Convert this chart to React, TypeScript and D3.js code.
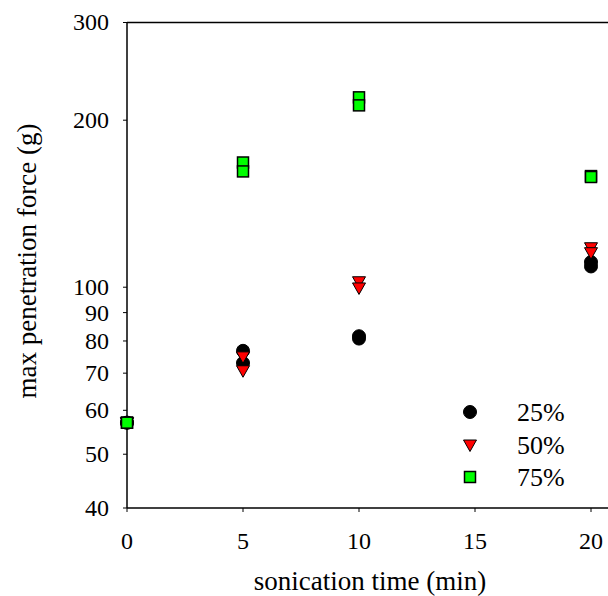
import React from 'react'
import * as d3 from 'd3'

// sonication time (min) and max penetration force (g), two replicates each
const times = [0, 0, 5, 5, 10, 10, 20, 20]
const force25 = [57, 57, 76.8, 73, 81.6, 80.8, 111, 109]
const force50 = [57, 57, 74.9, 70.7, 102.3, 99.7, 117.8, 115.4]
const force75 = [57, 57, 167.8, 161.7, 219.9, 212.7, 158.6, 158]

const xTicks = [0, 5, 10, 15, 20]
const yTicks = [40, 50, 60, 70, 80, 90, 100, 200, 300]
const seriesNames = ['25%', '50%', '75%']

const W = 608
const H = 596
const font = '"Liberation Serif", "Times New Roman", Times, "DejaVu Serif", serif'

export default function App() {
    const x = d3.scaleLinear().domain([0, 20]).range([127, 591])
    const y = d3.scaleLog().domain([40, 300]).range([508, 22.5])

    const circle = (cx: number, cy: number, k: string) => (
        <circle key={k} cx={cx} cy={cy} r={6.5} fill="#000" stroke="#000" strokeWidth={1} />
    )
    const tri = (cx: number, cy: number, k: string) => (
        <path key={k} d={`M${cx - 6.5},${cy - 5} L${cx + 6.5},${cy - 5} L${cx},${cy + 6.5} Z`}
            fill="#ff0000" stroke="#000" strokeWidth={1} />
    )
    const square = (cx: number, cy: number, k: string) => (
        <rect key={k} x={cx - 5.5} y={cy - 5.5} width={11} height={11}
            fill="#00ff00" stroke="#000" strokeWidth={1.5} />
    )

    const legendY = [412, 445, 477]
    const markers = [circle, tri, square]

    return (
        <svg width={W} height={H} style={{position: 'absolute', left: 0, top: 0, fontFamily: font}}>
            <rect width={W} height={H} fill="#fff" />

            {/* axes */}
            <line x1={127} x2={127} y1={22.5} y2={508} stroke="#000" strokeWidth={1.5} />
            <line x1={127} x2={608} y1={22.5} y2={22.5} stroke="#000" strokeWidth={1.5} />
            <line x1={127} x2={608} y1={508} y2={508} stroke="#000" strokeWidth={1.5} />

            {yTicks.map(t => (
                <g key={'y' + t}>
                    <line x1={123} x2={127} y1={y(t)} y2={y(t)} stroke="#000" strokeWidth={1} />
                    <text x={109} y={y(t)} dy="0.33em" textAnchor="end" fontSize={24}>{t}</text>
                </g>
            ))}
            {xTicks.map(t => (
                <g key={'x' + t}>
                    <line x1={x(t)} x2={x(t)} y1={508} y2={512} stroke="#000" strokeWidth={1} />
                    <text x={x(t)} y={549} textAnchor="middle" fontSize={24}>{t}</text>
                </g>
            ))}

            <text x={370} y={590} textAnchor="middle" fontSize={27}>sonication time (min)</text>
            <text transform="translate(36,261) rotate(-90)" textAnchor="middle" fontSize={27}>
                max penetration force (g)
            </text>

            {/* data */}
            {force25.map((v, i) => circle(x(times[i]), y(v), 'c' + i))}
            {force50.map((v, i) => tri(x(times[i]), y(v), 't' + i))}
            {force75.map((v, i) => square(x(times[i]), y(v), 's' + i))}

            {/* legend */}
            {seriesNames.map((n, i) => (
                <g key={n}>
                    {markers[i](470, legendY[i], 'l' + i)}
                    <text x={517} y={legendY[i]} dy="0.35em" fontSize={26}>{n}</text>
                </g>
            ))}
        </svg>
    )
}
